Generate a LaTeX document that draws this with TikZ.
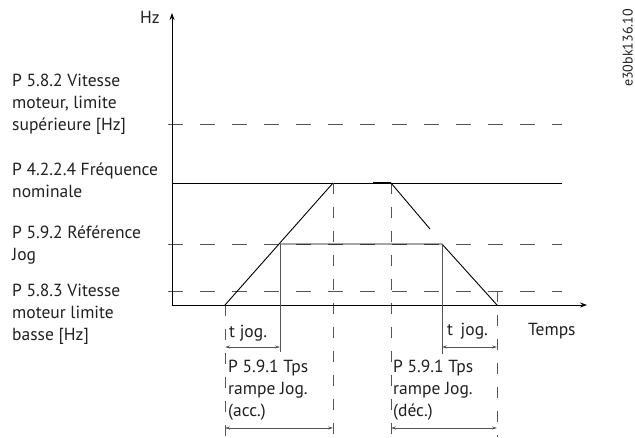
\documentclass[tikz,border=0pt]{standalone}
\usepackage{fontspec}
\setmainfont{PT Sans}
\usetikzlibrary{arrows.meta}
\definecolor{txt}{HTML}{231F20}
\definecolor{dgray}{HTML}{555555}
\begin{document}
\begin{tikzpicture}[x=1pt,y=-1pt,
  lbl/.style={anchor=base west,inner sep=0pt,text=txt,font=\fontsize{17.5}{22}\selectfont,align=left},
  axisline/.style={line width=1pt,-{Stealth[length=7pt,width=5pt]}},
  solidline/.style={line width=0.9pt,black},
  dashline/.style={line width=0.9pt,dgray,dash pattern=on 15pt off 17pt},
  vdash/.style={line width=0.9pt,dgray,dash pattern=on 11pt off 13pt},
  dimarrow/.style={line width=0.7pt,dgray,{Stealth[length=5pt,width=3pt]}-{Stealth[length=5pt,width=3pt]}},
  guide/.style={line width=0.9pt,dgray}]
\useasboundingbox (0,0) rectangle (635,437);
% coordinates
\coordinate (O) at (172,305);
\coordinate (Ytop) at (172,13);
\coordinate (Xend) at (587,305);
\coordinate (r0) at (225,305);
\coordinate (r1) at (333,183);
\coordinate (f0) at (373,183);
\coordinate (f1) at (391,183);
\coordinate (f2) at (430,229);
\coordinate (j0) at (280,244);
\coordinate (j1) at (442,244);
\coordinate (j2) at (497,305);
% level lines
\draw[dashline] (168,124) coordinate (u0) -- (562,124) coordinate (u1);
\draw[solidline] (172,183) coordinate (n0) -- (562,183) coordinate (n1);
\draw[dashline] (168,244) coordinate (g0) -- (562,244) coordinate (g1);
\draw[dashline] (168,291) coordinate (l0) -- (562,291) coordinate (l1);
% vertical dashed guides
\draw[vdash] (r0) -- (225,437) coordinate (r0b);
\draw[vdash] (r1) -- (333,437) coordinate (r1b);
\draw[vdash] (f1) -- (391,437) coordinate (f1b);
\draw[vdash] (497,291) coordinate (j2t) -- (497,437) coordinate (j2b);
% axes
\draw[axisline] (O) -- (Ytop);
\draw[axisline] (O) -- (Xend);
% curves
\draw[solidline] (r0) -- (r1);
\draw[line width=2pt,black] (f0) -- (f1);
\draw[solidline] (f1) -- (f2);
\draw[solidline] (j0) -- (j1) -- (j2);
% solid guides
\draw[guide] (j0) -- (280,352) coordinate (j0b);
\draw[guide] (j1) -- (442,354) coordinate (j1b);
% dimension arrows
\coordinate (a1) at (225,347); \coordinate (a2) at (280,347);
\coordinate (a3) at (442,347); \coordinate (a4) at (497,347);
\coordinate (b1) at (225,428); \coordinate (b2) at (333,428);
\coordinate (b3) at (391,428); \coordinate (b4) at (497,428);
\draw[dimarrow] (a1) -- (a2);
\draw[dimarrow] (a3) -- (a4);
\draw[dimarrow] (b1) -- (b2);
\draw[dimarrow] (b3) -- (b4);
% labels
\node[lbl,anchor=base east] (hz) at (160,23) {Hz};
\node[lbl] (temps) at (528,335) {Temps};
\node[lbl] (L1) at (12,130) {P 5.8.2 Vitesse\\moteur, limite\\supérieure [Hz]};
\node[lbl] (L2) at (12,197) {P 4.2.2.4 Fréquence\\nominale};
\node[lbl] (L3) at (12,260) {P 5.9.2 Référence\\Jog};
\node[lbl] (L4) at (12,340) {P 5.8.3 Vitesse\\moteur limite\\basse [Hz]};
\node[lbl] (tj1) at (229,337) {t jog.};
\node[lbl] (tj2) at (447,335) {t\, jog.};
\node[lbl] (acc) at (228,416) {P 5.9.1 Tps\\rampe Jog.\\(acc.)};
\node[lbl] (dec) at (393,416) {P 5.9.1 Tps\\rampe Jog.\\(déc.)};
\node[anchor=south,inner sep=0pt,rotate=90,text=txt,font=\fontsize{14}{16}\selectfont] (wm) at (633,48) {e30bk136.10};
\end{tikzpicture}
\end{document}
